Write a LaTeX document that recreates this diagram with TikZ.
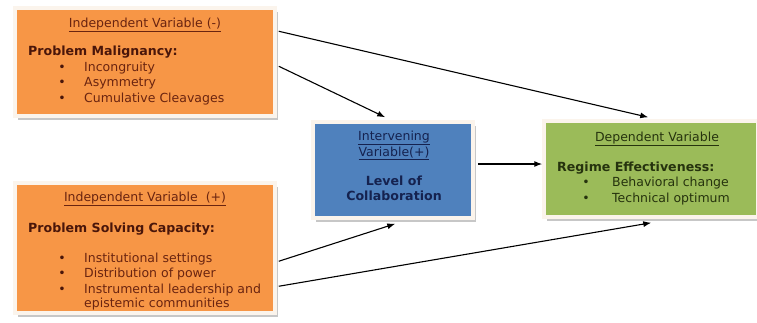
\documentclass[tikz,border=0pt]{standalone}
\usepackage{fontspec}
\setmainfont{DejaVu Sans}
\usetikzlibrary{arrows.meta,shadows}
\definecolor{boxorange}{HTML}{F79646}
\definecolor{boxblue}{HTML}{4F81BD}
\definecolor{boxgreen}{HTML}{9BBB59}
\definecolor{txtorange}{HTML}{6A2410}
\definecolor{txtorangeb}{HTML}{4A160A}
\definecolor{txtblue}{HTML}{15224F}
\definecolor{txtgreen}{HTML}{26330E}
\definecolor{framecol}{HTML}{FBF4EC}
\begin{document}
\begin{tikzpicture}[x=1pt,y=-1pt,
  panel/.style={draw=framecol,line width=3.5pt,inner sep=0pt,
    drop shadow={shadow xshift=3pt,shadow yshift=-4pt,fill=gray!55,opacity=0.8}},
  txt/.style={inner sep=0pt,font=\fontsize{12.5}{14}\selectfont},
  bold/.style={txt,font=\fontsize{12.6}{14}\selectfont\bfseries},
  bul/.style={txt,anchor=base},
  arr/.style={-{Latex[length=8pt,width=6pt]},line width=1.1pt,black}]
\useasboundingbox (0,0) rectangle (757,322);
% boxes
\node[panel,fill=boxorange,minimum width=260pt,minimum height=108pt] (b1) at (145,62) {};
\node[panel,fill=boxorange,minimum width=260pt,minimum height=130pt] (b2) at (145,248) {};
\node[panel,fill=boxblue,minimum width=160pt,minimum height=96pt] (b3) at (393,170) {};
\node[panel,fill=boxgreen,minimum width=214pt,minimum height=96pt] (b4) at (651,169) {};
% box 1 text
\node[txt,anchor=base,text=txtorange] (t1) at (145,27) {\underline{Independent Variable (-)}};
\node[bold,anchor=base west,text=txtorangeb] (t1b) at (28,55) {Problem Malignancy:};
\node[bul,text=txtorangeb] (d11) at (62,71) {•};
\node[bul,text=txtorangeb] (d12) at (62,86) {•};
\node[bul,text=txtorangeb] (d13) at (62,102) {•};
\node[txt,anchor=base west,text=txtorange] (i11) at (84,71) {Incongruity};
\node[txt,anchor=base west,text=txtorange] (i12) at (84,86) {Asymmetry};
\node[txt,anchor=base west,text=txtorange] (i13) at (84,102) {Cumulative Cleavages};
% box 2 text
\node[txt,anchor=base,text=txtorange] (t2) at (145,201) {\underline{Independent Variable\ \ (+)}};
\node[bold,anchor=base west,text=txtorangeb] (t2b) at (28,232) {Problem Solving Capacity:};
\node[bul,text=txtorangeb] (d21) at (62,262) {•};
\node[bul,text=txtorangeb] (d22) at (62,277) {•};
\node[bul,text=txtorangeb] (d23) at (62,293) {•};
\node[txt,anchor=base west,text=txtorange] (i21) at (84,262) {Institutional settings};
\node[txt,anchor=base west,text=txtorange] (i22) at (84,277) {Distribution of power};
\node[txt,anchor=base west,text=txtorange] (i23) at (84,293) {Instrumental leadership and};
\node[txt,anchor=base west,text=txtorange] (i24) at (84,307) {epistemic communities};
% box 3 text
\node[txt,anchor=base,text=txtblue] (t3a) at (394,140) {\underline{Intervening}};
\node[txt,anchor=base,text=txtblue] (t3b) at (394,156) {\underline{Variable(+)}};
\node[bold,anchor=base,text=txtblue] (t3c) at (394,185) {Level of};
\node[bold,anchor=base,text=txtblue] (t3d) at (394,200) {Collaboration};
% box 4 text
\node[txt,anchor=base,text=txtgreen] (t4) at (657,141) {\underline{Dependent Variable}};
\node[bold,anchor=base west,text=txtgreen] (t4b) at (557,171) {Regime Effectiveness:};
\node[bul,text=txtgreen] (d41) at (586,186) {•};
\node[bul,text=txtgreen] (d42) at (586,202) {•};
\node[txt,anchor=base west,text=txtgreen] (i41) at (612,186) {Behavioral change};
\node[txt,anchor=base west,text=txtgreen] (i42) at (612,202) {Technical optimum};
% arrows
\draw[arr] ([yshift=-25pt,xshift=2pt]b1.north east) -- ([xshift=106pt,yshift=2pt]b4.north west);
\draw[arr] ([yshift=-60pt,xshift=2pt]b1.north east) -- ([xshift=74pt,yshift=3pt]b3.north west);
\draw[arr] ([yshift=-80pt,xshift=2pt]b2.north east) -- ([xshift=84pt,yshift=-4pt]b3.south west);
\draw[arr] ([yshift=-105pt,xshift=2pt]b2.north east) -- ([xshift=109pt,yshift=-4pt]b4.south west);
\draw[arr] ([xshift=3pt,yshift=6pt]b3.east) -- ([yshift=5pt]b4.west);
\end{tikzpicture}
\end{document}
